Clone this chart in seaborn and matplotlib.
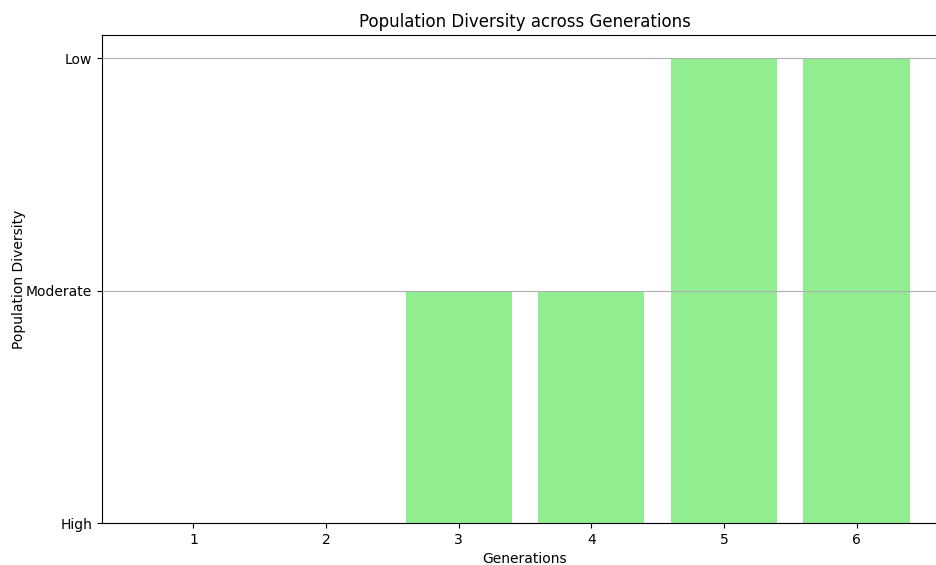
import matplotlib
matplotlib.use("Agg")
import matplotlib.pyplot as plt
import seaborn as sns

# data
generations = ["1", "2", "3", "4", "5", "6"]
diversity = [0, 0, 1, 1, 2, 2]  # 0=High, 1=Moderate, 2=Low
level_labels = ["High", "Moderate", "Low"]

fig = plt.figure(figsize=(9.36, 5.65), dpi=100)
ax = fig.add_axes([102 / 936, 42 / 565, 846 / 936, 488 / 565])

sns.barplot(x=generations, y=diversity, color="lightgreen", saturation=1,
            width=0.8, ax=ax)

ax.set_xlim(-0.69, 5.69)
ax.set_ylim(0, 2.1)
ax.set_yticks([0, 1, 2])
ax.set_yticklabels(level_labels)
ax.yaxis.grid(True, color="#b0b0b0", linewidth=0.8)
ax.set_axisbelow(False)
ax.set_title("Population Diversity across Generations", fontsize=12)
ax.set_xlabel("Generations")
ax.set_ylabel("Population Diversity", labelpad=0)

fig.savefig("out.png", dpi=100)
